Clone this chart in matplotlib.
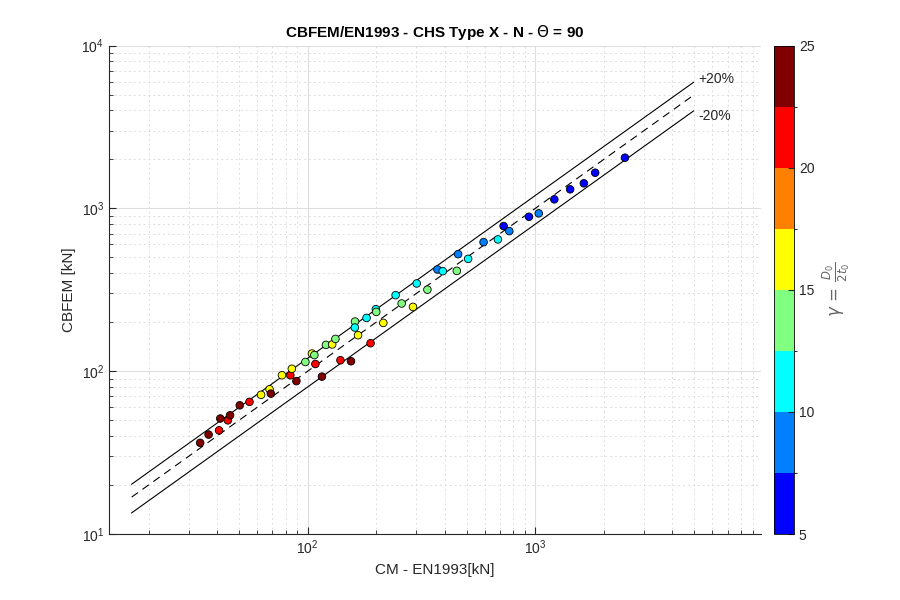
import numpy as np
import matplotlib
matplotlib.use("Agg")
import matplotlib.pyplot as plt
from matplotlib.colors import ListedColormap, BoundaryNorm

plt.rcParams['font.family'] = ['Liberation Sans', 'DejaVu Sans']

# Data: CM-EN1993 resistance, CBFEM resistance, gamma = D0/2t0
cm_en1993 = [33.7, 36.7, 40.8, 41.3, 44.6, 45.6, 50.3, 55.5, 62.4, 68.0,
             68.9, 77.1, 83.9, 89.2, 85.2, 97.7, 104.4, 107.0, 108.1, 115.5,
             120.3, 128.1, 132.4, 139.3, 155.0, 161.4, 161.1, 166.4, 188.9, 181.4,
             199.3, 200.1, 214.9, 243.4, 258.7, 290.1, 301.2, 335.7, 371.5, 392.1,
             451.9, 458.0, 506.8, 592.6, 685.0, 725.8, 768.3, 937.9, 1035, 1212,
             1422, 1634, 1832, 2476]
cbfem = [36.3, 40.8, 43.3, 51.2, 49.9, 53.6, 61.7, 64.8, 71.6, 77.4,
         72.8, 94.4, 94.4, 86.9, 103.5, 113.9, 128.3, 125.6, 110.7, 92.6,
         145.1, 145.9, 157.8, 116.7, 115.1, 201.8, 185.4, 166.3, 148.5, 212.4,
         240.3, 231.3, 197.9, 293.0, 260.4, 248.2, 345.7, 316.7, 421.4, 411.5,
         413.2, 523.5, 489.8, 620.4, 644.6, 778.3, 725.1, 887.8, 931.6, 1136,
         1309, 1425, 1655, 2047]
gamma = [24, 24, 21, 24, 21, 24, 23, 21, 16.5, 16.5,
         24, 16.5, 21, 24, 16.5, 14, 16.5, 14, 21, 24,
         14, 16.5, 14, 21, 24, 14, 11.5, 16.5, 21, 11.5,
         11.5, 14, 16.5, 11.5, 14, 16.5, 11.5, 14, 9, 11.5,
         14, 9, 11.5, 9, 11.5, 6.5, 9, 6.5, 9, 6.5,
         6.5, 6.5, 6.5, 6.5]

# MATLAB jet(8)
jet8 = ListedColormap([(0, 0, 1), (0, 0.5, 1), (0, 1, 1), (0.5, 1, 0.5),
                       (1, 1, 0), (1, 0.5, 0), (1, 0, 0), (0.5, 0, 0)])
norm = BoundaryNorm(np.linspace(5, 25, 9), jet8.N)

txt = (0.15, 0.15, 0.15)
fig = plt.figure(figsize=(9, 6), dpi=100)
ax = fig.add_axes([0.1211, 0.11, 0.7244, 0.8141])
cax = fig.add_axes([0.86, 0.11, 0.0222, 0.8141])

x_line = np.array([min(cm_en1993) / 2, max(cm_en1993) * 2])
ax.plot(x_line, x_line * 1.2, color='k', lw=0.8)
ax.plot(x_line, x_line, color='k', lw=0.8, ls=(0, (7, 5)))
ax.plot(x_line, x_line * 0.8, color='k', lw=0.8)
ax.text(x_line[1] * 1.05, x_line[1] * 1.2 * 1.05, '+20%', fontsize=10,
        color=txt, va='center', ha='left')
ax.text(x_line[1] * 1.05, x_line[1] * 0.8 * 0.93, '-20%', fontsize=10,
        color=txt, va='center', ha='left')

sc = ax.scatter(cm_en1993, cbfem, c=gamma, cmap=jet8, norm=norm, s=30,
                edgecolors='k', linewidths=0.6, zorder=3)

ax.set_xscale('log')
ax.set_yscale('log')
ax.set_xlim(13.4, 9800)
ax.set_ylim(10, 1e4)
ax.grid(True, which='major', color='0.87', lw=0.8, ls='-')
ax.grid(True, which='minor', color='0.87', lw=0.7, ls=(0, (2, 3)))
ax.set_axisbelow(True)
for s in ['top', 'right']:
    ax.spines[s].set_visible(False)
for s in ['left', 'bottom']:
    ax.spines[s].set_color(txt)
ax.tick_params(which='both', direction='in', colors=txt, labelsize=10)
ax.tick_params(which='major', length=5)
ax.tick_params(which='minor', length=3)
ax.set_xlabel('CM - EN1993[kN]', fontsize=11, color=txt)
ax.set_ylabel('CBFEM [kN]', fontsize=11, color=txt)
ax.set_title('CBFEM/EN1993 - CHS Type X - N - $\\Theta$ = 90', fontsize=11,
             fontweight='bold', color='k')

cb = fig.colorbar(sc, cax=cax, ticks=[5, 10, 15, 20, 25])
cb.outline.set_linewidth(0.6)
cb.ax.tick_params(direction='in', length=4, labelsize=10, colors=txt)
cb.set_label(r'$\gamma\,=\,\frac{D_0}{2t_0}$', fontsize=12, color='0.4',
             labelpad=4)

fig.savefig('out.png', dpi=100)
